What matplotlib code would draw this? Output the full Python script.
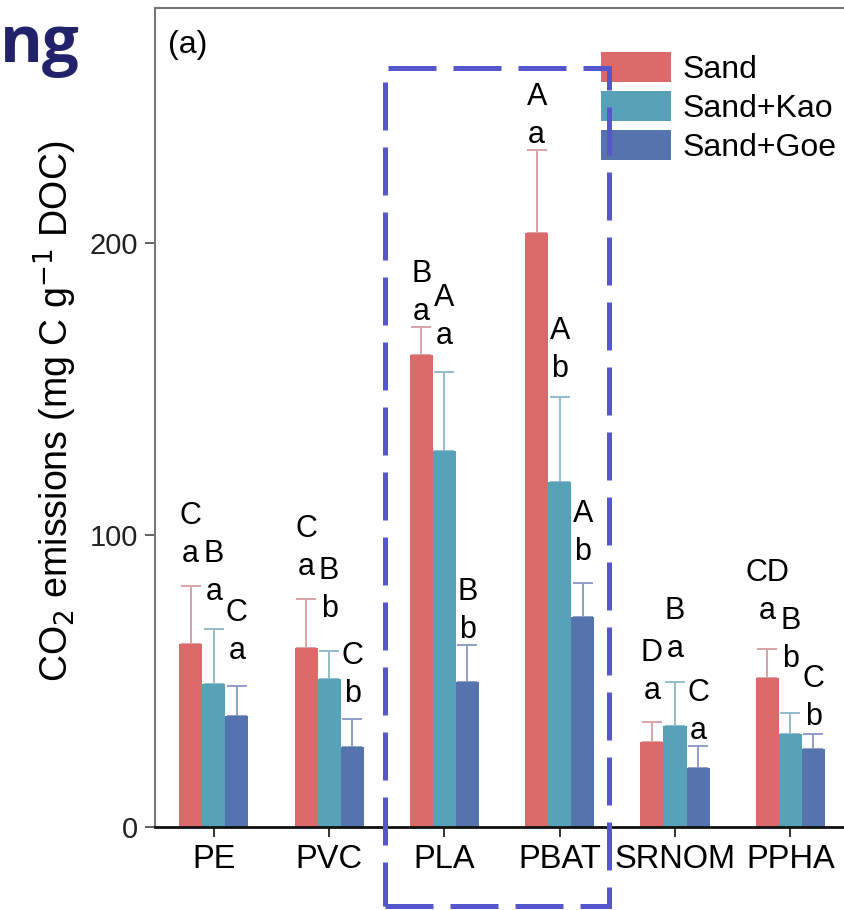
import numpy as np
import matplotlib
matplotlib.use("Agg")
import matplotlib.pyplot as plt
from matplotlib.patches import Rectangle

plt.rcParams["font.family"] = ["Liberation Sans", "DejaVu Sans"]

# data
categories = ["PE", "PVC", "PLA", "PBAT", "SRNOM", "PPHA"]
series = ["Sand", "Sand+Kao", "Sand+Goe"]
sand = [62.7, 61.3, 161.5, 203.4, 29.2, 51.0]
sand_err = [19.8, 16.7, 9.6, 28.4, 6.8, 10.0]
kao = [49.0, 50.7, 128.8, 118.3, 34.7, 31.8]
kao_err = [18.8, 9.6, 27.0, 29.0, 14.9, 7.2]
goe = [38.0, 27.4, 49.7, 72.0, 20.1, 26.6]
goe_err = [10.3, 9.6, 12.7, 11.5, 7.6, 5.4]

upper_letters = [["C", "B", "C"], ["C", "B", "C"], ["B", "A", "B"],
                 ["A", "A", "A"], ["D", "B", "C"], ["CD", "B", "C"]]
lower_letters = [["a", "a", "a"], ["a", "b", "b"], ["a", "a", "b"],
                 ["a", "b", "b"], ["a", "a", "a"], ["a", "b", "b"]]

# layout: gap between error bar top and the lower-case letter (data units)
letter_gap = [[8.2, 9.9, 9.2], [8.2, 11.6, 5.8], [2.4, 9.6, 2.4],
              [2.4, 6.8, 7.9], [7.9, 8.6, 2.4], [10.3, 15.8, 3.1]]

colors = ["#dd6a6b", "#58a2b9", "#5573ad"]
err_colors = ["#d9a3a6", "#93bccb", "#8d9dc2"]

W, H = 844, 910
fig = plt.figure(figsize=(W / 100, H / 100), dpi=100)
ax_left, ax_bottom = 155 / W, (H - 827) / H
ax_height = (827 - 8) / H
xmin, xmax = -0.51, 5.5
px_per_unit = 115.3
ax_width = (xmax - xmin) * px_per_unit / W
ax = fig.add_axes([ax_left, ax_bottom, ax_width, ax_height])

x = np.arange(len(categories))
width = 0.2
values = [sand, kao, goe]
errors = [sand_err, kao_err, goe_err]
for j in range(3):
    xs = x + (j - 1) * width
    ax.bar(xs, values[j], width, color=colors[j], label=series[j], zorder=2)
    ax.errorbar(xs, values[j], yerr=[np.zeros(len(x)), errors[j]], fmt="none",
                ecolor=err_colors[j], elinewidth=1.4, capsize=7, capthick=1.4, zorder=1)
    for i in range(len(x)):
        top = values[j][i] + errors[j][i]
        y_low = top + letter_gap[i][j]
        ax.text(xs[i], y_low, lower_letters[i][j], ha="center", va="baseline", fontsize=22)
        ax.text(xs[i], y_low + 13.0, upper_letters[i][j], ha="center", va="baseline", fontsize=22)

ax.set_xlim(xmin, xmax)
ax.set_ylim(0, 280.5)
ax.set_yticks([0, 100, 200])
ax.set_xticks(x)
ax.set_xticklabels(categories)
ax.tick_params(axis="both", length=7, width=1.3, color="#555555", pad=5)
ax.tick_params(axis="x", labelsize=23.5, color="#222222")
ax.tick_params(axis="y", labelsize=21, labelcolor="#222222")
for side in ["left", "top", "right"]:
    ax.spines[side].set_color("#777777")
    ax.spines[side].set_linewidth(1.5)
ax.spines["bottom"].set_color("#111111")
ax.spines["bottom"].set_linewidth(2)

fig.text(55 / W, 1 - 411 / H, "CO$_2$ emissions (mg C g$^{-1}$ DOC)", rotation=90,
         ha="center", va="center", fontsize=27)
fig.text(168 / W, 1 - 45 / H, "(a)", ha="left", va="center", fontsize=23)
fig.text(0, 1 - 62 / H, "ng", ha="left", va="baseline", fontsize=47,
         fontweight="bold", color="#22226b", family=["Open Sans", "DejaVu Sans"])

ax.legend(loc="upper left", bbox_to_anchor=(601 / W, 1 - 52 / H), bbox_transform=fig.transFigure,
          frameon=False, fontsize=23, handlelength=2.2, handleheight=1.05, labelspacing=0.2,
          handletextpad=0.35, borderpad=0, borderaxespad=0)

box = Rectangle((385 / W, 1 - 906 / H), (609 - 385) / W, (906 - 68) / H,
                transform=fig.transFigure, fill=False, edgecolor="#5555cc",
                linewidth=3.6, linestyle=(0, (9.6, 3.4)), zorder=10)
fig.add_artist(box)

fig.savefig("out.png", dpi=100)
